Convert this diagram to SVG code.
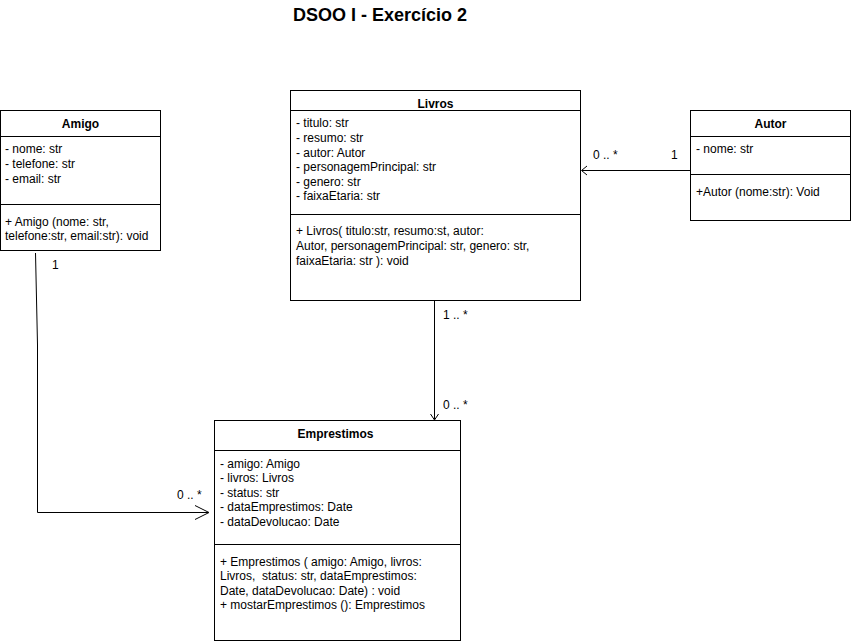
<svg xmlns="http://www.w3.org/2000/svg" width="851" height="643" viewBox="0 0 851 643">
<style>
text{font-family:"Liberation Sans",Arial,sans-serif;font-size:12px;fill:#000}
.t{font-weight:bold;text-anchor:middle}
.title{font-size:18px;font-weight:bold;text-anchor:middle}
.box{fill:#fff;stroke:#000;stroke-width:1}
.ln{fill:none;stroke:#000;stroke-width:1}
.pre{white-space:pre}
</style>
<rect width="851" height="643" fill="#fff"/>
<text class="title" x="380" y="21">DSOO I - Exercício 2</text>
<g id="connectors">
<path class="ln" d="M690 170.5H582"/>
<path class="ln" d="M587 166L581.5 170.5L587 175"/>
<path class="ln" d="M434.5 300.5V419"/>
<path class="ln" d="M430.5 414L434.5 420L438.5 414"/>
<path class="ln" d="M35.5 253L37.5 345V512.5H208"/>
<path class="ln" d="M195 505.5L209 512.5L195 519.5"/>
<text x="593" y="159">0 .. *</text>
<text x="671" y="159">1</text>
<text x="443" y="319">1 .. *</text>
<text x="443" y="409">0 .. *</text>
<text x="52" y="269">1</text>
<text x="177" y="499">0 .. *</text>
</g>
<g id="Amigo">
<rect class="box" x="0.5" y="110.5" width="160" height="140"/>
<path class="ln" d="M0.5 136.5H160.5M0.5 204.5H160.5"/>
<text class="t" x="80.5" y="128">Amigo</text>
<text x="5" y="153">- nome: str</text>
<text x="5" y="168">- telefone: str</text>
<text x="5" y="183">- email: str</text>
<text x="5" y="226">+ Amigo (nome: str,</text>
<text x="5" y="240">telefone:str, email:str): void</text>
</g>
<g id="Livros">
<rect class="box" x="290.5" y="90.5" width="290" height="210"/>
<path class="ln" d="M290.5 110.5H580.5M290.5 214.5H580.5"/>
<text class="t" x="435.5" y="108">Livros</text>
<text x="296" y="127">- titulo: str</text>
<text x="296" y="142">- resumo: str</text>
<text x="296" y="157">- autor: Autor</text>
<text x="296" y="171">- personagemPrincipal: str</text>
<text x="296" y="186">- genero: str</text>
<text x="296" y="200">- faixaEtaria: str</text>
<text x="296" y="235">+ Livros( titulo:str, resumo:st, autor:</text>
<text x="296" y="250">Autor, personagemPrincipal: str, genero: str,</text>
<text x="296" y="265">faixaEtaria: str ): void</text>
</g>
<g id="Autor">
<rect class="box" x="690.5" y="110.5" width="160" height="110"/>
<path class="ln" d="M690.5 136.5H850.5M690.5 174.5H850.5"/>
<text class="t" x="770.5" y="128">Autor</text>
<text x="696" y="153">- nome: str</text>
<text x="696" y="196">+Autor (nome:str): Void</text>
</g>
<g id="Emprestimos">
<rect class="box" x="214.5" y="420.5" width="246" height="220"/>
<path class="ln" d="M214.5 450.5H460.5M214.5 544.5H460.5"/>
<text class="t" x="335.5" y="438">Emprestimos</text>
<text x="220" y="468">- amigo: Amigo</text>
<text x="220" y="482">- livros: Livros</text>
<text x="220" y="497">- status: str</text>
<text x="220" y="511">- dataEmprestimos: Date</text>
<text x="220" y="526">- dataDevolucao: Date</text>
<text x="220" y="566">+ Emprestimos ( amigo: Amigo, livros:</text>
<text class="pre" x="220" y="580" xml:space="preserve">Livros,  status: str, dataEmprestimos:</text>
<text x="220" y="595">Date, dataDevolucao: Date) : void</text>
<text x="220" y="609">+ mostarEmprestimos (): Emprestimos</text>
</g>
</svg>
